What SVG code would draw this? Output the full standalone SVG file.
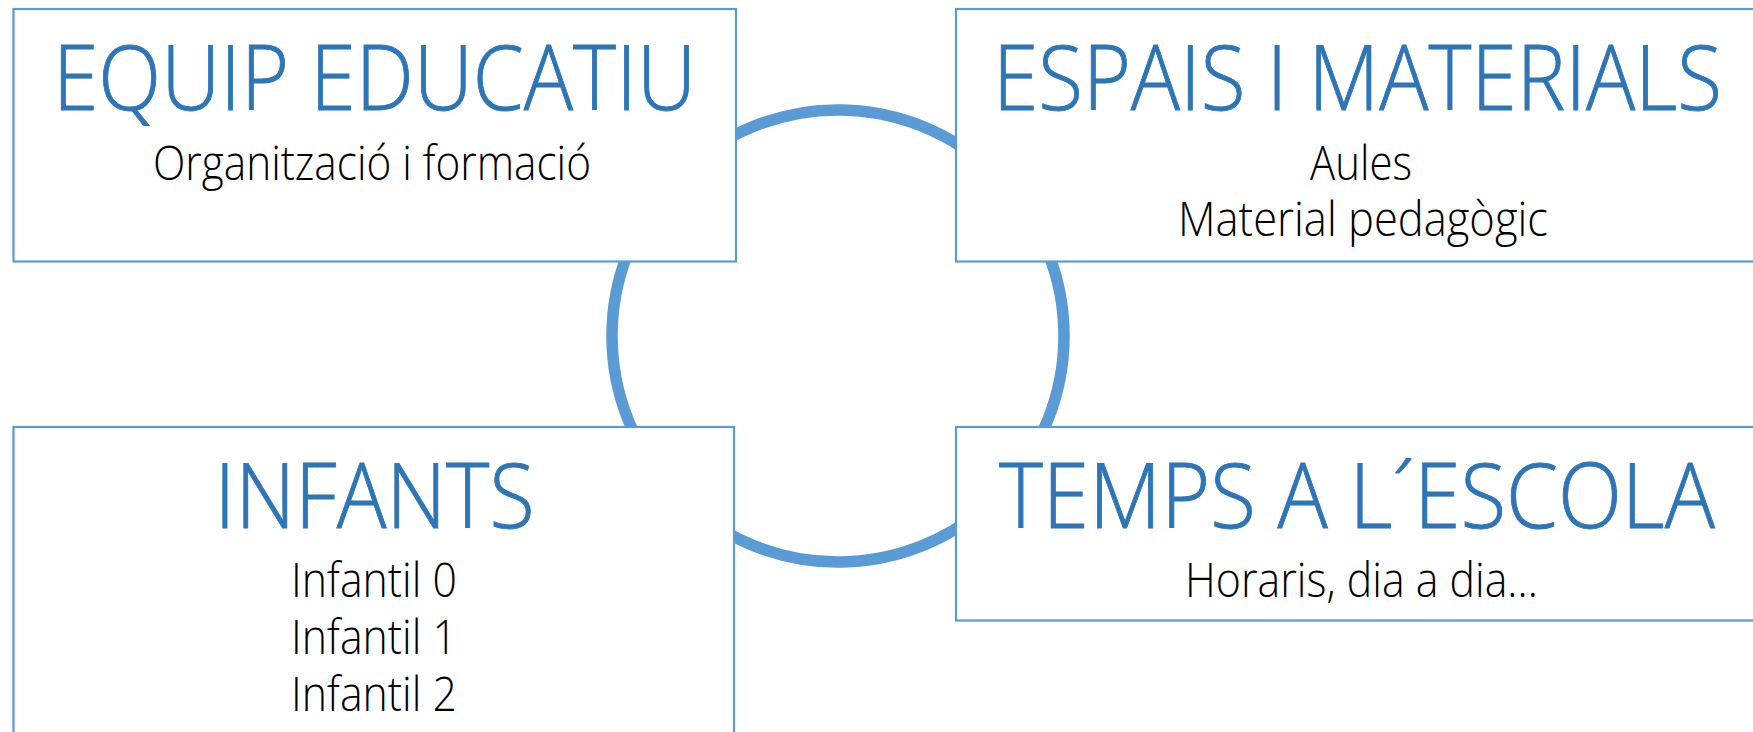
<svg xmlns="http://www.w3.org/2000/svg" width="1753" height="732" viewBox="0 0 1753 732">
<style>
.box{fill:#ffffff;stroke:#5B9BD5;stroke-width:2.2}
.title{font-family:"Open Sans","Noto Sans","Liberation Sans",sans-serif;font-weight:300;font-size:91px;fill:#2E75B6;stroke:#2E75B6;stroke-width:0.9;text-anchor:middle}
.sub{font-family:"Open Sans","Noto Sans","Liberation Sans",sans-serif;font-weight:300;font-size:47px;fill:#000000;text-anchor:middle}
.ring{fill:none;stroke:#5B9BD5;stroke-width:11.5}
</style>
<rect width="1753" height="732" fill="#ffffff"/>
<g id="connectors">
<circle class="ring" cx="838" cy="336" r="226"/>
</g>
<g id="node-equip">
<rect class="box" x="13.5" y="9" width="722.5" height="252.5"/>
<text class="title" x="374.5" y="109.6" textLength="643" lengthAdjust="spacingAndGlyphs">EQUIP EDUCATIU</text>
<text class="sub" x="372" y="180" textLength="438" lengthAdjust="spacingAndGlyphs">Organització i formació</text>
</g>
<g id="node-espais">
<rect class="box" x="956" y="9" width="810" height="252.5"/>
<text class="title" x="1357.5" y="109.6" textLength="729" lengthAdjust="spacingAndGlyphs">ESPAIS I MATERIALS</text>
<text class="sub" x="1361" y="180" textLength="102" lengthAdjust="spacingAndGlyphs">Aules</text>
<text class="sub" x="1363" y="236" textLength="370" lengthAdjust="spacingAndGlyphs">Material pedagògic</text>
</g>
<g id="node-infants">
<rect class="box" x="13.5" y="427" width="720.5" height="330"/>
<text class="title" x="374.6" y="527.6" textLength="320" lengthAdjust="spacingAndGlyphs">INFANTS</text>
<text class="sub" x="374" y="597" textLength="166" lengthAdjust="spacingAndGlyphs">Infantil 0</text>
<text class="sub" x="374" y="654" textLength="166" lengthAdjust="spacingAndGlyphs">Infantil 1</text>
<text class="sub" x="374" y="711" textLength="166" lengthAdjust="spacingAndGlyphs">Infantil 2</text>
</g>
<g id="node-temps">
<rect class="box" x="956" y="427" width="810" height="193.5"/>
<text class="title" x="1357" y="527.6" textLength="716" lengthAdjust="spacingAndGlyphs">TEMPS A L´ESCOLA</text>
<text class="sub" x="1361.5" y="597" textLength="353" lengthAdjust="spacingAndGlyphs">Horaris, dia a dia…</text>
</g>
</svg>
